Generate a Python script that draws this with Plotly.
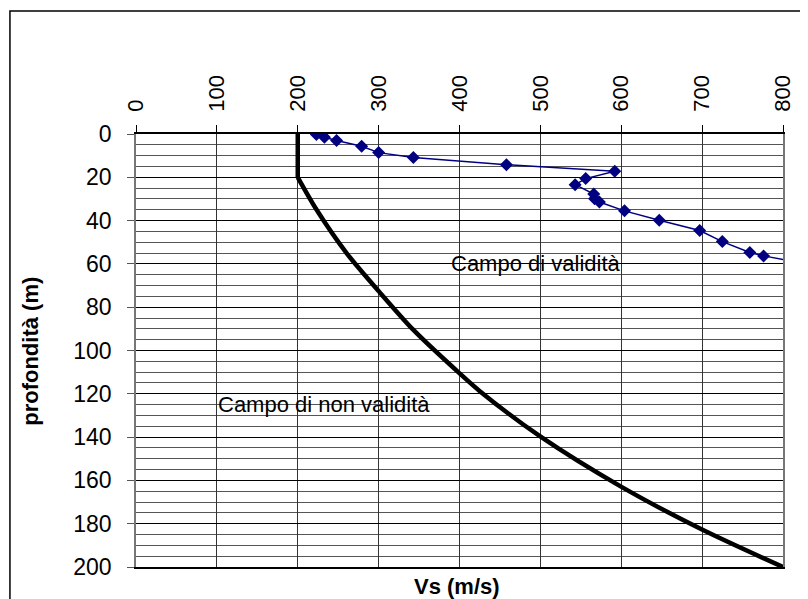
import plotly.graph_objects as go

# Measured profile (Vs in m/s, depth in m)
vs_profile = [223, 233, 248, 279, 300, 343, 458, 592, 556, 543, 566, 567, 573,
              604, 647, 697, 725, 759, 776, 850]
depth_profile = [0.2, 1.5, 3.0, 5.7, 8.6, 10.8, 14.2, 17.2, 20.6, 23.4, 27.7,
                 29.9, 31.4, 35.5, 39.8, 44.6, 49.7, 54.7, 56.3, 61.5]

# Validity limit curve
vs_limit = [200, 200, 223.5, 260.6, 300.6, 343, 400.8, 425.5, 499.8, 600.8, 700.5, 800]
depth_limit = [0, 20, 35.1, 55.1, 72.8, 90.5, 110.8, 118.9, 139.7, 163.1, 182.8, 200]

x_ticks = [0, 100, 200, 300, 400, 500, 600, 700, 800]
y_ticks = [0, 20, 40, 60, 80, 100, 120, 140, 160, 180, 200]

# page is offset by the default 8px body margin
OFF = 8
W, H = 800, 591
PL, PR, PT, PB = 136, 782.7, 134, 567.3   # plot area in page pixels
ML = PL - OFF
MT = PT - OFF
MR = W - (PR - OFF)
MB = H - (PB - OFF)
pw = PR - PL
ph = PB - PT
FONT = "Arial, Liberation Sans, sans-serif"


def px(xp):
    return (xp - PL) / pw


def py(yp):
    return (PB - yp) / ph


fig = go.Figure()
# vertical part of the limit (sharp corner), then the smooth curve
fig.add_trace(go.Scatter(
    x=vs_limit[:2], y=depth_limit[:2], mode="lines",
    line=dict(color="black", width=4.5), showlegend=False, hoverinfo="skip"))
fig.add_trace(go.Scatter(
    x=vs_limit[1:], y=depth_limit[1:], mode="lines",
    line=dict(color="black", width=4.5, shape="spline", smoothing=0.8),
    showlegend=False, hoverinfo="skip"))
fig.add_trace(go.Scatter(
    x=vs_profile, y=depth_profile, mode="lines+markers",
    line=dict(color="#000080", width=1.5),
    marker=dict(symbol="diamond", size=10, color="#000080"),
    showlegend=False))

fig.update_layout(
    width=W, height=H,
    margin=dict(l=ML, r=MR, t=MT, b=MB, pad=0),
    paper_bgcolor="white", plot_bgcolor="white",
    font=dict(family=FONT, size=22, color="black"),
    xaxis=dict(side="top", range=[0, 800], tickvals=x_ticks,
               ticktext=[str(v) for v in x_ticks],
               tickangle=-90, ticks="outside", ticklen=7, tickcolor="black",
               ticklabelstandoff=9,
               showgrid=True, gridcolor="#333333", gridwidth=1,
               showline=True, linecolor="black", linewidth=1.5, mirror=True,
               zeroline=False, tickfont=dict(size=22)),
    yaxis=dict(range=[200, 0], tickvals=y_ticks,
               ticktext=[str(v) for v in y_ticks],
               ticks="outside", ticklen=7, tickcolor="#555555",
               ticklabelstandoff=11,
               showgrid=True, gridcolor="black", gridwidth=1,
               minor=dict(dtick=5, showgrid=True, gridcolor="#555555", gridwidth=1),
               showline=True, linecolor="#777777", linewidth=1.5, mirror=True,
               zeroline=False, tickfont=dict(size=23)),
    annotations=[
        dict(text="Campo di validità", x=494, y=60, xref="x", yref="y",
             xanchor="center", yanchor="middle",
             showarrow=False, font=dict(size=22)),
        dict(text="Campo di non validità", x=233, y=125, xref="x", yref="y",
             xanchor="center", yanchor="middle",
             showarrow=False, font=dict(size=22)),
        dict(text="<b>Vs (m/s)</b>", x=px(457), y=py(587),
             xref="paper", yref="paper", xanchor="center", yanchor="middle",
             showarrow=False, font=dict(size=22)),
        dict(text="<b>profondità (m)</b>", x=px(31), y=py(351),
             xref="paper", yref="paper", xanchor="center", yanchor="middle",
             showarrow=False, textangle=-90, font=dict(size=22)),
    ],
    shapes=[dict(type="rect", xref="paper", yref="paper",
                 x0=px(10), x1=px(806), y0=py(640), y1=py(11),
                 line=dict(color="black", width=1.5), fillcolor="rgba(0,0,0,0)",
                 layer="below")],
)

fig.write_html("out.html")
